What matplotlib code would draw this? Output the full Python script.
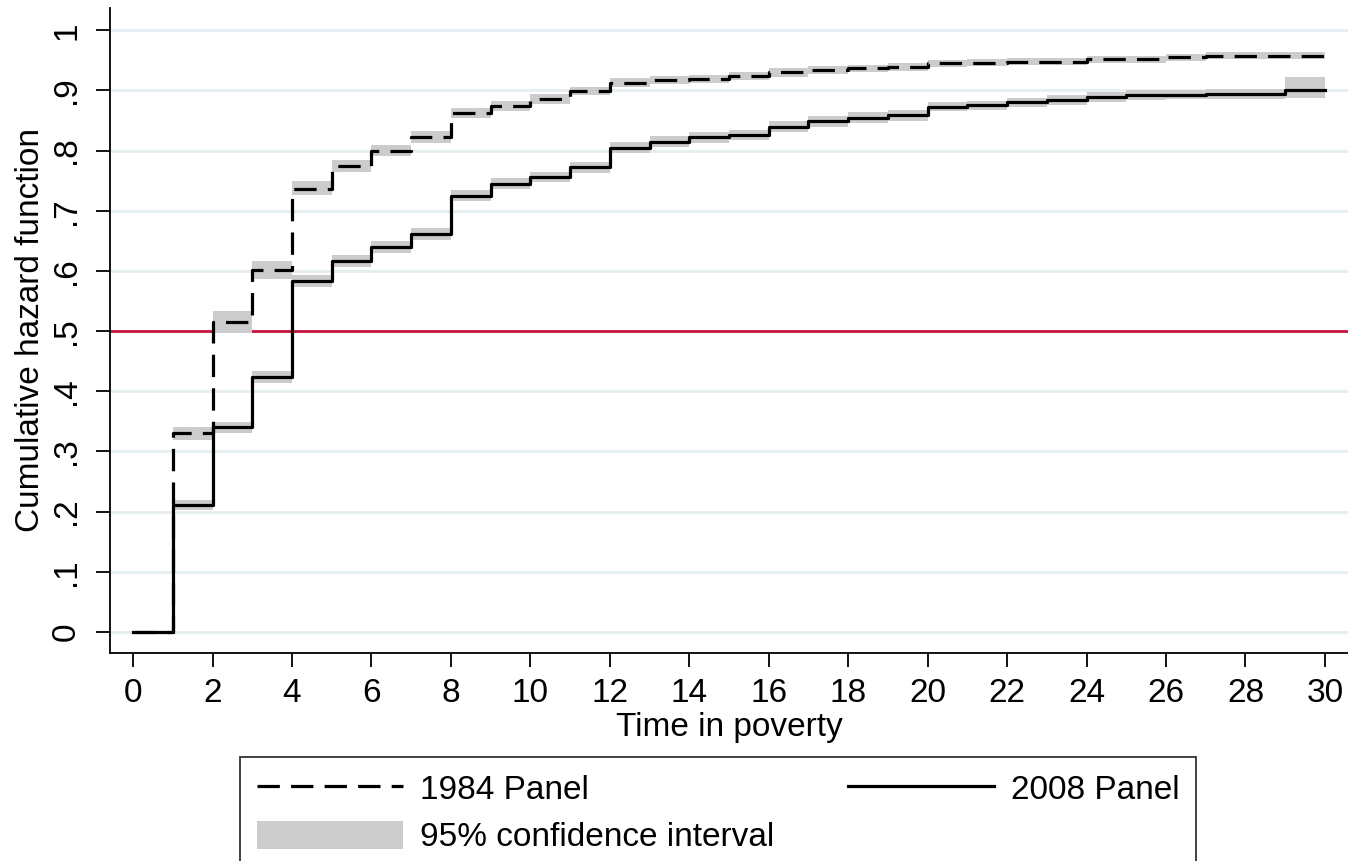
import numpy as np
import matplotlib.pyplot as plt
from matplotlib.patches import Patch
from matplotlib.lines import Line2D

plt.rcParams["font.family"] = ["Liberation Sans", "DejaVu Sans"]

# step edges (time in poverty)
t = np.arange(0, 31)

# cumulative hazard on each interval [k, k+1), k = 0..29
haz84 = [0, .330, .515, .601, .737, .774, .800, .822, .862, .874,
         .886, .899, .913, .917, .919, .924, .930, .934, .937, .939,
         .945, .946, .948, .948, .952, .952, .955, .958, .958, .958]
haz08 = [0, .211, .340, .423, .583, .617, .640, .662, .725, .745,
         .756, .772, .805, .815, .822, .826, .840, .849, .855, .859,
         .873, .875, .880, .884, .889, .892, .893, .894, .894, .901]

# 95% CI bounds on intervals k = 1..29
lo84 = [.319, .497, .586, .727, .764, .791, .813, .854, .866, .878,
        .892, .906, .910, .912, .917, .923, .927, .931, .933, .939,
        .940, .942, .942, .946, .946, .949, .952, .952, .952]
hi84 = [.341, .533, .616, .750, .785, .810, .832, .871, .882, .894,
        .906, .920, .924, .926, .931, .937, .941, .943, .945, .951,
        .952, .954, .954, .958, .958, .961, .964, .964, .964]
lo08 = [.203, .331, .413, .573, .607, .630, .652, .716, .736, .747,
        .763, .796, .806, .813, .817, .831, .840, .846, .850, .865,
        .867, .872, .876, .881, .884, .885, .886, .886, .887]
hi08 = [.219, .349, .433, .593, .627, .650, .672, .734, .754, .765,
        .781, .814, .824, .831, .835, .849, .858, .864, .868, .881,
        .883, .888, .892, .897, .900, .901, .902, .902, .923]

yticks = np.arange(0, 1.01, 0.1)
ytick_labels = ["0", ".1", ".2", ".3", ".4", ".5", ".6", ".7", ".8", ".9", "1"]
xticks = np.arange(0, 31, 2)

ci_color = "#CCCCCC"
fs = 24

fig = plt.figure(figsize=(13.48, 8.61), dpi=100)
ax = fig.add_axes([110 / 1348, 1 - 653 / 861, 1 - 110 / 1348, (653 - 8) / 861])

for y in yticks:
    ax.axhline(y, color="#E6EEF1", lw=2, zorder=0)
ax.axhline(0.5, color="#C8143C", lw=2, zorder=1)

k = t[1:30]
ax.bar(k, np.array(hi84) - np.array(lo84), bottom=lo84, width=1, align="edge",
       color=ci_color, lw=0, zorder=2)
ax.bar(k, np.array(hi08) - np.array(lo08), bottom=lo08, width=1, align="edge",
       color=ci_color, lw=0, zorder=2)

ax.step(t, haz84 + [haz84[-1]], where="post", color="black", lw=2.3,
        dashes=(7, 3.5), zorder=3)
ax.step(t, haz08 + [haz08[-1]], where="post", color="black", lw=2.3, zorder=4)

ax.set_xlim(-0.58, 30.58)
ax.set_ylim(-0.035, 1.037)
ax.set_xticks(xticks)
ax.set_yticks(yticks)
ax.set_yticklabels(ytick_labels, rotation=90, va="center")
ax.tick_params(axis="both", labelsize=fs, length=10, width=1.3, pad=8)
ax.tick_params(axis="y", pad=10)
for s in ["top", "right"]:
    ax.spines[s].set_visible(False)
for s in ["left", "bottom"]:
    ax.spines[s].set_linewidth(1.3)

ax.set_xlabel("Time in poverty", fontsize=fs, labelpad=2)
ax.set_ylabel("Cumulative hazard function", fontsize=fs, labelpad=4)

handles = [Line2D([], [], color="black", lw=2.3, dashes=(7, 3.5)),
           Patch(facecolor=ci_color, edgecolor="none"),
           Line2D([], [], color="black", lw=2.3)]
labels = ["1984 Panel", "95% confidence interval", "2008 Panel"]
leg = fig.legend(handles, labels, loc="upper left",
                 bbox_to_anchor=(240 / 1348, 1 - 757 / 861), borderaxespad=0,
                 ncol=2, fontsize=fs, frameon=True, fancybox=False,
                 handlelength=4.4, handleheight=0.9, handletextpad=0.5,
                 columnspacing=2.2, borderpad=0.5, labelspacing=0.45)
leg.get_frame().set_edgecolor("black")
leg.get_frame().set_linewidth(1.3)

fig.savefig("out.png", dpi=100)
